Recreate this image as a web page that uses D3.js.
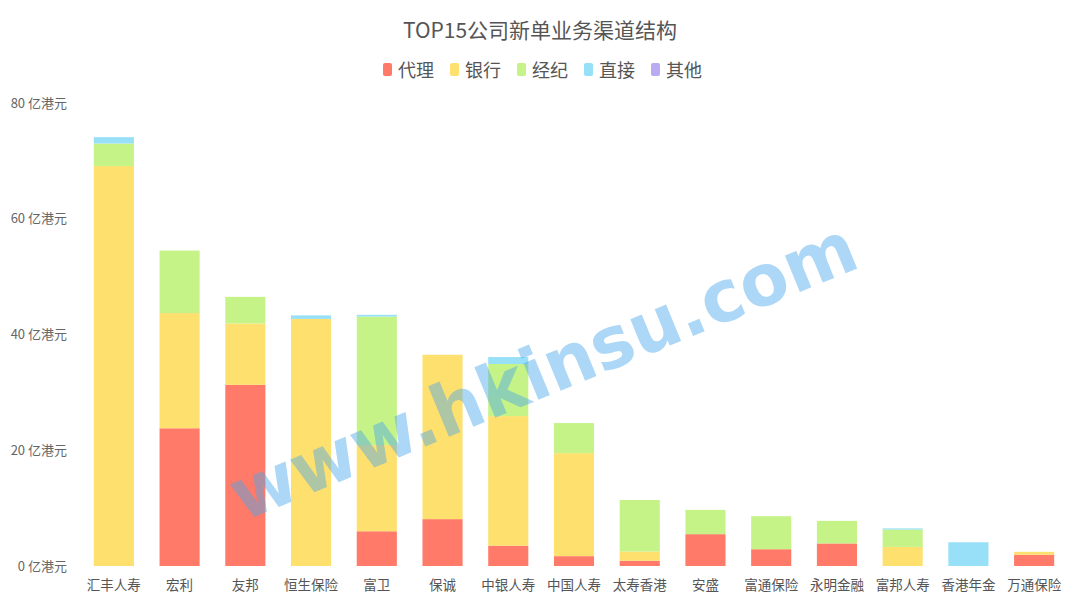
<!DOCTYPE html>
<html><head><meta charset="utf-8">
<script src="https://cdn.jsdelivr.net/npm/d3@7"></script>
<style>body{margin:0;background:#fff}svg{display:block}</style>
</head><body><svg id="c" width="1080" height="607"></svg>
<script>
const categories = ["汇丰人寿","宏利","友邦","恒生保险","富卫","保诚","中银人寿","中国人寿","太寿香港","安盛","富通保险","永明金融","富邦人寿","香港年金","万通保险"];
const seriesNames = ["代理","银行","经纪","直接","其他"];
const agency = [0, 23.8, 31.3, 0, 6.0, 8.1, 3.5, 1.7, 0.9, 5.5, 2.9, 3.9, 0, 0, 1.95];
const bank   = [69.1, 19.9, 10.6, 42.7, 14.9, 28.4, 22.4, 17.8, 1.6, 0, 0, 0, 3.3, 0, 0.5];
const broker = [3.9, 10.8, 4.6, 0, 22.2, 0, 9.0, 5.2, 8.9, 4.2, 5.7, 3.9, 3.0, 0, 0];
const direct = [1.1, 0, 0, 0.6, 0.3, 0, 1.2, 0, 0, 0, 0, 0, 0.2, 4.1, 0];
const other  = [0, 0, 0, 0, 0, 0, 0, 0, 0, 0, 0, 0, 0, 0, 0];
const yTicks = [0, 20, 40, 60, 80];
const colors = ["#ff7a68","#fde06e","#c5f387","#97e0f8","#b9aaf3"];

const svg = d3.select("#c");
const font = "'Noto Sans CJK SC','Noto Sans',sans-serif";
const seriesVals = [agency, bank, broker, direct, other];
const rows = categories.map((c,i)=>{const r={cat:c}; seriesNames.forEach((s,k)=>r[s]=seriesVals[k][i]); return r;});
const stack = d3.stack().keys(seriesNames)(rows);

const x = d3.scaleBand().domain(categories).range([81,1067]).paddingInner(0.39).paddingOuter(0.195);
const y = d3.scaleLinear().domain([0,80]).range([566,103]);

// title
svg.append("text").attr("x",540).attr("y",38).attr("text-anchor","middle")
  .attr("font-family",font).attr("font-size",21).attr("fill","#555").text("TOP15公司新单业务渠道结构");

// legend
const lg = svg.append("g");
seriesNames.forEach((s,i)=>{
  const gx = 383 + i*67;
  lg.append("rect").attr("x",gx).attr("y",63).attr("width",9).attr("height",13).attr("rx",2).attr("fill",colors[i]);
  lg.append("text").attr("x",gx+15).attr("y",77).attr("font-family",font).attr("font-size",18).attr("fill","#555").text(s);
});

// y axis
const ya = svg.append("g").attr("transform","translate(67,0)")
  .call(d3.axisLeft(y).tickValues(yTicks).tickSize(0).tickPadding(0).tickFormat(d=>d+" 亿港元"));
ya.select(".domain").remove();
ya.selectAll("text").attr("font-family",font).attr("font-size",13).attr("fill","#666");

// bars
svg.append("g").selectAll("g").data(stack).join("g").attr("fill",(d,i)=>colors[i])
  .selectAll("rect").data(d=>d).join("rect")
  .attr("x",d=>x(d.data.cat)).attr("width",x.bandwidth())
  .attr("y",d=>y(d[1])).attr("height",d=>Math.max(0,y(d[0])-y(d[1])));

// x axis
const xa = svg.append("g").attr("transform","translate(0,566)")
  .call(d3.axisBottom(x).tickSize(0).tickPadding(14));
xa.select(".domain").remove();
xa.selectAll("text").attr("font-family",font).attr("font-size",13.5).attr("fill","#555");

// watermark
svg.append("text").attr("transform","translate(545,376) rotate(-22.4)")
  .attr("text-anchor","middle").attr("dominant-baseline","middle")
  .attr("font-family","'DejaVu Sans',sans-serif").attr("font-weight","bold").attr("font-size",72)
  .attr("fill","#4aa6ea").attr("fill-opacity",0.45).attr("textLength",670).attr("lengthAdjust","spacingAndGlyphs")
  .text("www.hkinsu.com");
</script></body></html>
